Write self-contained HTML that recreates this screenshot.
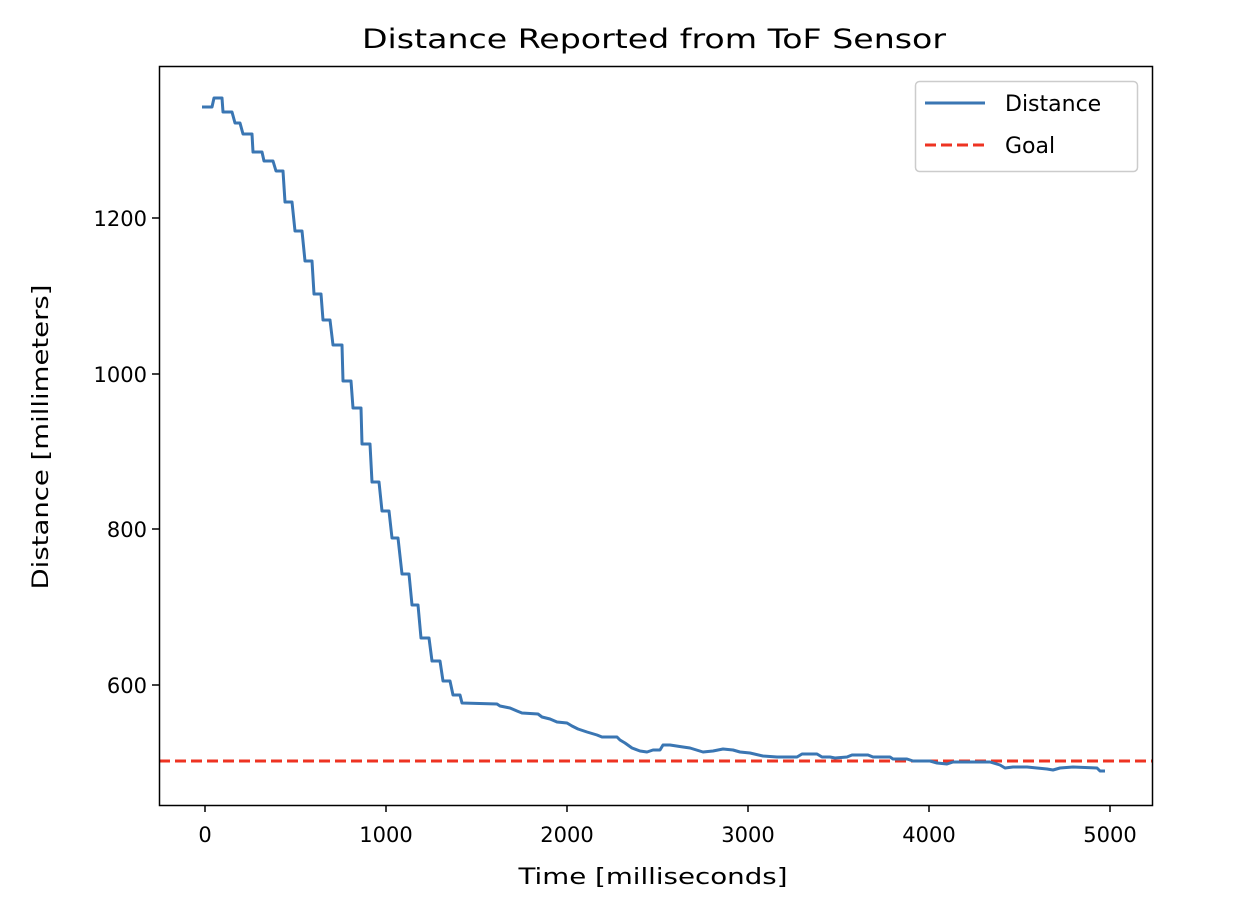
<!DOCTYPE html>
<html><head><style>body{margin:0;background:#fff}svg{display:block}text{font-family:"DejaVu Sans","Liberation Sans",sans-serif;fill:#000}</style></head>
<body>
<svg width="1258" height="914" viewBox="0 0 1258 914" xmlns="http://www.w3.org/2000/svg">
<rect width="1258" height="914" fill="#fff"/>
<text x="654" y="48" font-size="27" text-anchor="middle" textLength="584" lengthAdjust="spacingAndGlyphs">Distance Reported from ToF Sensor</text>
<line x1="159" y1="761" x2="1152" y2="761" stroke="#ee3322" stroke-width="3" stroke-dasharray="11,5"/>
<polyline fill="none" stroke="#3a76b3" stroke-width="3" stroke-linejoin="round" points="
202,107 212,107 214,98 222,98 223,112 232,112 235,123 240,123 243,134 252,134 253,152 262,152 264,161 273,161 276,171 283,171 285,202 292,202 295,231 302,231 305,261 312,261 314,294 321,294 323,320 330,320 333,345 342,345 343,381 351,381 353,408 361,408 362,444 370,444 372,482 379,482 382,511 389,511 392,538 398,538 402,574 409,574 412,605 418,605 421,638 429,638 432,661 440,661 443,681 450,681 453,695 460,695 462,703 497,704 500,706 510,708 517,711 522,713 538,714 542,717 550,719 557,722 567,723 572,726 578,729 587,732 597,735 602,737 617,737 620,740 625,743 632,748 640,751 647,752 653,750 660,750 663,745 670,745 683,747 690,748 703,752 713,751 723,749 733,750 740,752 750,753 763,756 777,757 797,757 802,754 817,754 822,757 830,757 835,758 847,757 852,755 868,755 873,757 890,757 893,759 907,759 913,761 930,761 937,763 947,764 953,762 977,762 990,762 1000,765 1005,768 1013,767 1027,767 1037,768 1047,769 1053,770 1060,768 1073,767 1097,768 1100,771 1105,771"/>
<rect x="159.5" y="66.5" width="993" height="739" fill="none" stroke="#000" stroke-width="1.5"/>
<g stroke="#000" stroke-width="1.5">
<line x1="205" y1="805" x2="205" y2="812"/><line x1="386" y1="805" x2="386" y2="812"/><line x1="567" y1="805" x2="567" y2="812"/><line x1="748" y1="805" x2="748" y2="812"/><line x1="929" y1="805" x2="929" y2="812"/><line x1="1110" y1="805" x2="1110" y2="812"/>
<line x1="152" y1="218" x2="159" y2="218"/><line x1="152" y1="374" x2="159" y2="374"/><line x1="152" y1="529" x2="159" y2="529"/><line x1="152" y1="685" x2="159" y2="685"/>
</g>
<g font-size="21" text-anchor="middle">
<text x="205" y="842">0</text><text x="386" y="842">1000</text><text x="567" y="842">2000</text><text x="748" y="842">3000</text><text x="929" y="842">4000</text><text x="1110" y="842">5000</text>
</g>
<g font-size="21" text-anchor="end">
<text x="147" y="226">1200</text><text x="147" y="382">1000</text><text x="147" y="537">800</text><text x="147" y="693">600</text>
</g>
<text x="653" y="884" font-size="22" text-anchor="middle" textLength="269" lengthAdjust="spacingAndGlyphs">Time [milliseconds]</text>
<text transform="translate(48,437) rotate(-90)" font-size="22" text-anchor="middle" textLength="305" lengthAdjust="spacingAndGlyphs">Distance [millimeters]</text>
<rect x="915.5" y="81.5" width="222" height="90" rx="4" fill="#fff" fill-opacity="0.8" stroke="#ccc" stroke-width="1.5"/>
<line x1="925" y1="103" x2="985" y2="103" stroke="#3a76b3" stroke-width="3"/>
<line x1="925" y1="145" x2="985" y2="145" stroke="#ee3322" stroke-width="3" stroke-dasharray="11,5"/>
<text x="1005" y="111" font-size="22">Distance</text>
<text x="1005" y="153" font-size="22">Goal</text>
</svg>
</body></html>
